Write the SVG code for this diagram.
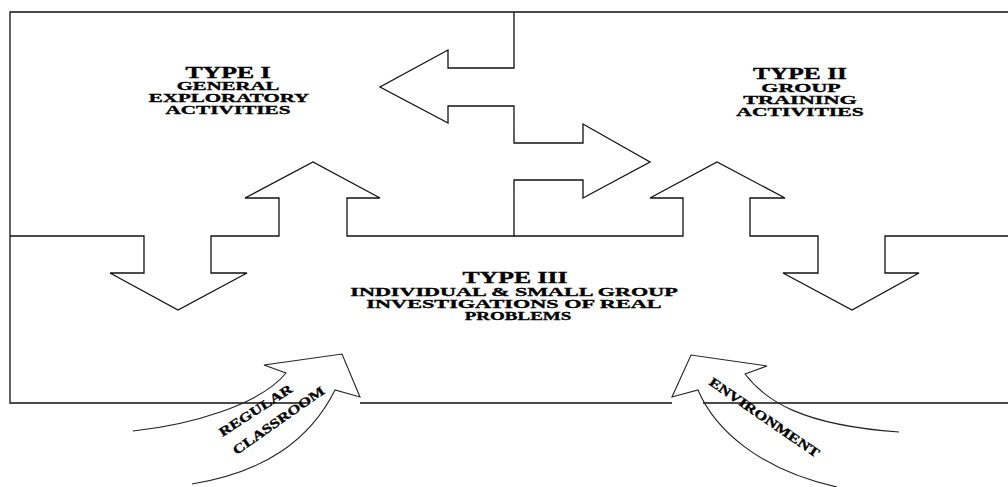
<svg xmlns="http://www.w3.org/2000/svg" width="1008" height="487" viewBox="0 0 1008 487">
<style>
.ln{fill:none;stroke:#111;stroke-width:1.3;stroke-linejoin:miter}
.cv{fill:none;stroke:#222;stroke-width:1.1}
.t{font-family:"Liberation Serif","Times New Roman",serif;font-weight:bold;fill:#000;stroke:#000;stroke-width:0.35;text-anchor:middle}
.h{font-size:16px}
.s{font-size:12.5px}
.a{font-size:13px}
</style>
<rect width="1008" height="487" fill="#fff"/>
<g id="frame">
<path class="ln" d="M1008,12 H10 V403 H310 M360,403 H672 M703,403 H1008"/>
</g>
<g id="connectors">
<path class="ln" d="M10,236 H144 V273 H110 L178,310 L247,273 H211 V236 H279 V198 H245 L313,162 L380,198 H347 V236 H514 V180 H583 V198 L650,162 L583,124 V143 H514 V106 H448 V123 L380,87 L448,50 V68 H514 V12"/>
<path class="ln" d="M514,236 H683 V198 H650 L717,162 L785,198 H750 V236 H818 V273 H783 L852,310 L919,273 H885 V236 H1008"/>
</g>
<g id="type1">
<text class="t h" transform="translate(228,78) scale(1.61,1)">TYPE I</text>
<text class="t s" transform="translate(228,90) scale(1.66,1)">GENERAL</text>
<text class="t s" transform="translate(229,102) scale(1.68,1)">EXPLORATORY</text>
<text class="t s" transform="translate(228,114) scale(1.70,1)">ACTIVITIES</text>
</g>
<g id="type2">
<text class="t h" transform="translate(800,79) scale(1.59,1)">TYPE II</text>
<text class="t s" transform="translate(801,92) scale(1.76,1)">GROUP</text>
<text class="t s" transform="translate(800,104) scale(1.78,1)">TRAINING</text>
<text class="t s" transform="translate(800,116) scale(1.73,1)">ACTIVITIES</text>
</g>
<g id="type3">
<text class="t h" transform="translate(515,283) scale(1.61,1)">TYPE III</text>
<text class="t s" transform="translate(514,296) scale(1.77,1)">INDIVIDUAL &amp; SMALL GROUP</text>
<text class="t s" transform="translate(514,308) scale(1.78,1)">INVESTIGATIONS OF REAL</text>
<text class="t s" transform="translate(518,320) scale(1.52,1)">PROBLEMS</text>
</g>
<g id="regular-classroom">
<path class="cv" d="M133,431 C190,425 260,405 286,373 L264,365 L342,354 L360,397 L335,390 C310,440 265,472 192,484"/>
<text class="t a" transform="translate(258,414) rotate(-33) scale(1.3,1)">REGULAR</text>
<text class="t a" transform="translate(281,424) rotate(-35) scale(1.3,1)">CLASSROOM</text>
</g>
<g id="environment">
<path class="cv" d="M899,432 C800,425 765,400 745,374 L767,366 L691,355 L672,397 L698,390 C715,430 760,470 837,487"/>
<text class="t a" transform="translate(762,421) rotate(34.5) scale(1.3,1)">ENVIRONMENT</text>
</g>
</svg>
